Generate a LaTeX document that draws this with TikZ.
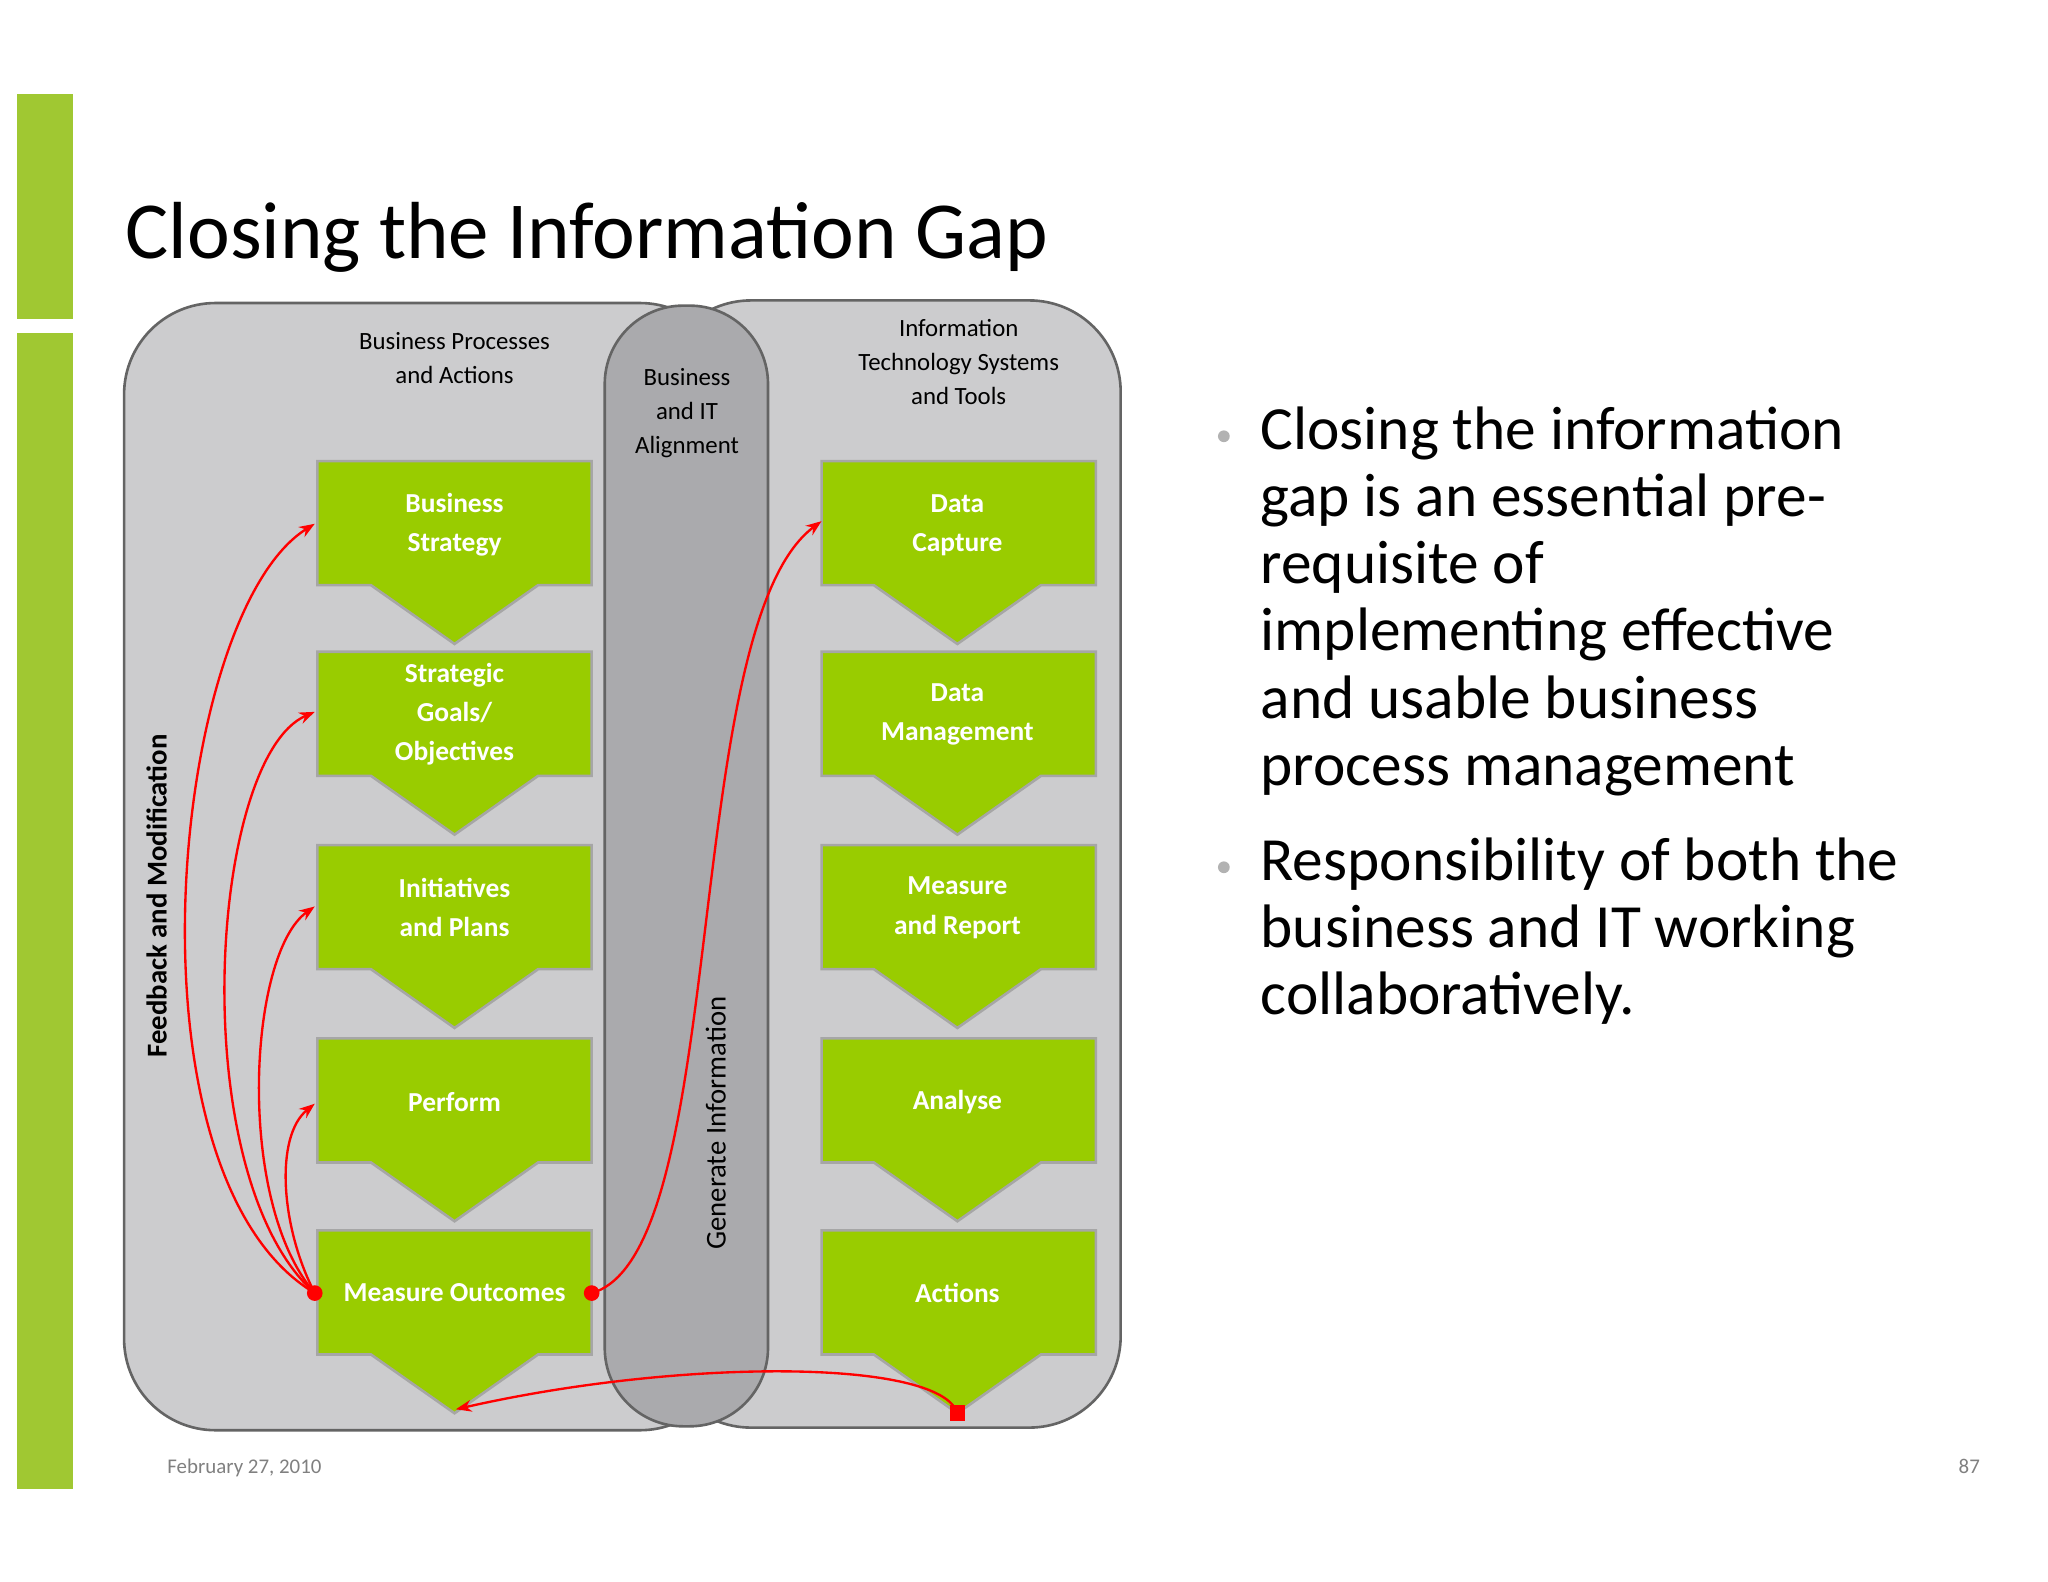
\documentclass[tikz,border=0pt]{standalone}
\usepackage{fontspec}
\setmainfont{Carlito}
\usetikzlibrary{arrows.meta}
\definecolor{barg}{RGB}{160,200,50}
\definecolor{boxg}{RGB}{153,204,0}
\definecolor{panel}{RGB}{204,204,206}
\definecolor{mid}{RGB}{170,170,173}
\definecolor{edge}{RGB}{100,100,100}
\tikzset{
 gbox/.style={fill=boxg,draw=gray!70,line width=2pt},
 btxt/.style={text=white,font=\fontsize{21}{30}\selectfont\bfseries,align=center},
 htxt/.style={font=\fontsize{19}{26}\selectfont,align=center},
 fb/.style={red,line width=1.8pt,-{Stealth[length=12pt,width=9pt]}},
 bul/.style={font=\fontsize{47}{51.5}\selectfont,align=left,anchor=north west,inner sep=0}
}
\newcommand{\gshape}[4]{% x-left, top, center, name
 \fill[gbox] (#1,#2)--(#1+210,#2)--(#1+210,#2+95)--(#3+64,#2+95)--(#3,#2+140)--(#3-64,#2+95)--(#1,#2+95)--cycle;
 \coordinate (#4) at (#3,#2+47);}
\begin{document}
\begin{tikzpicture}[x=1pt,y=-1pt]
\useasboundingbox (0,0) rectangle (1568,1211);
\fill[white] (0,0) rectangle (1568,1211);
\fill[barg] (13,72) rectangle (56,244);
\fill[barg] (13,255) rectangle (56,1140);
\node[anchor=base west,inner sep=0,font=\fontsize{62}{66}\selectfont] (title) at (96,198) {Closing the Information Gap};
% panels
\draw[fill=panel,draw=edge,line width=2pt,rounded corners=70pt] (95,232) rectangle (560,1095);
\draw[fill=panel,draw=edge,line width=2pt,rounded corners=70pt] (505,230) rectangle (858,1093);
\fill[panel] (520,240) rectangle (560,1080);
\draw[fill=mid,draw=edge,line width=2pt,rounded corners=60pt] (463,234) rectangle (588,1092);
\node[htxt] (h1) at (348,274) {Business Processes\\and Actions};
\node[htxt] (h2) at (526,316) {Business\\and IT\\Alignment};
\node[htxt] (h3) at (734,277) {Information\\Technology Systems\\and Tools};
% boxes
\gshape{243}{353}{348}{l1}\gshape{243}{499}{348}{l2}\gshape{243}{647}{348}{l3}\gshape{243}{795}{348}{l4}\gshape{243}{942}{348}{l5}
\gshape{629}{353}{733}{r1}\gshape{629}{499}{733}{r2}\gshape{629}{647}{733}{r3}\gshape{629}{795}{733}{r4}\gshape{629}{942}{733}{r5}
\node[btxt] at (348,402) {Business\\Strategy};
\node[btxt] at (348,547) {Strategic\\Goals/\\Objectives};
\node[btxt] at (348,695) {Initiatives\\and Plans};
\node[btxt] at (348,844) {Perform};
\node[btxt] at (348,990) {Measure Outcomes};
\node[btxt] at (733,402) {Data\\Capture};
\node[btxt] at (733,547) {Data\\Management};
\node[btxt] at (733,695) {Measure\\and Report};
\node[btxt] at (733,844) {Analyse};
\node[btxt] at (733,990) {Actions};
\node[rotate=90,font=\fontsize{22}{24}\selectfont\bfseries] (fm) at (120,686) {Feedback and Modification};
\node[rotate=90,font=\fontsize{22}{24}\selectfont] (gi) at (548,860) {Generate Information};
% connectors
\coordinate (s) at (241,990); \coordinate (s2) at (453,990); \coordinate (s3) at (733,1082);
\coordinate (t1) at (241,401); \coordinate (t2) at (241,545); \coordinate (t3) at (241,694); \coordinate (t4) at (241,845);
\coordinate (t5) at (629,399); \coordinate (t6) at (349,1079);
\draw[fb] (s) .. controls (90,900) and (130,470) .. (t1);
\draw[fb] (s) .. controls (140,900) and (160,580) .. (t2);
\draw[fb] (s) .. controls (180,920) and (190,730) .. (t3);
\draw[fb] (s) .. controls (215,940) and (210,870) .. (t4);
\draw[fb] (s2) .. controls (560,960) and (520,480) .. (t5);
\draw[fb] (s3) .. controls (720,1040) and (520,1040) .. (t6);
\fill[red] (s) circle (6pt); \fill[red] (s2) circle (6pt);
\fill[red] (727,1076) rectangle (739,1088);
% bullets
\fill[gray!60] (937,334) circle (4.5pt);
\fill[gray!60] (937,664) circle (4.5pt);
\node[bul] (b1) at (965,311) {Closing the information\\gap is an essential pre-\\requisite of\\implementing effective\\and usable business\\process management};
\node[bul] (b2) at (965,641) {Responsibility of both the\\business and IT working\\collaboratively.};
\node[anchor=base west,inner sep=0,font=\fontsize{16}{18}\selectfont,text=gray] (d) at (128,1128) {February 27, 2010};
\node[anchor=base east,inner sep=0,font=\fontsize{16}{18}\selectfont,text=gray] (p) at (1516,1128) {87};
\end{tikzpicture}
\end{document}
